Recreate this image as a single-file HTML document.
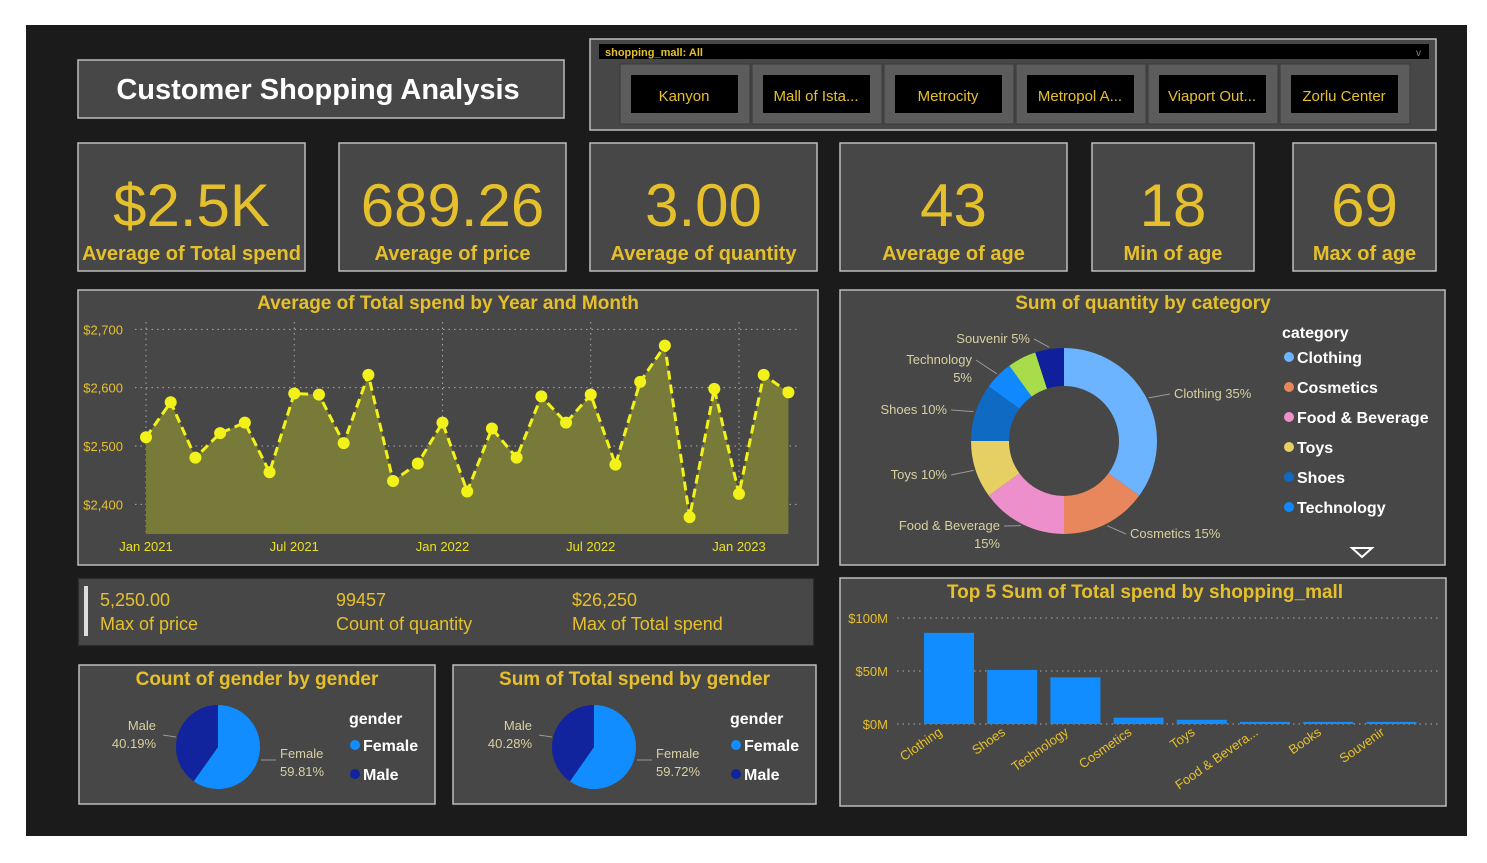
<!DOCTYPE html>
<html><head><meta charset="utf-8">
<style>
html,body{margin:0;padding:0;background:#fff;}
svg{display:block;font-family:"Liberation Sans",sans-serif;}
.t{font-family:"Liberation Sans Narrow","Liberation Sans",sans-serif;font-weight:bold;fill:#e6c02c;}
.y{fill:#e6c02c;}
</style></head>
<body>
<svg id="root" width="1487" height="863" viewBox="0 0 1487 863" xmlns="http://www.w3.org/2000/svg">
<rect x="26" y="25" width="1441" height="811" fill="#1b1b1b"/>
<g>
<rect x="78" y="60" width="486" height="58" fill="#474747" stroke="#bdbdbd" stroke-width="1.5"/>
<text x="318" y="99" text-anchor="middle" font-size="29" font-weight="bold" fill="#fff">Customer Shopping  Analysis</text>
</g>
<g>
<rect x="590" y="39" width="846" height="91" fill="#474747" stroke="#bdbdbd" stroke-width="1.5"/>
<rect x="599" y="44" width="830" height="15" fill="#000"/>
<text x="605" y="56" font-size="11" font-weight="bold" class="y">shopping_mall: All</text>
<text x="1416" y="56" font-size="10" fill="#888">v</text>
</g>
<g id="mallbtns"></g>
<g id="kpis"></g>
<g>
<rect x="78" y="290" width="740" height="275" fill="#474747" stroke="#bdbdbd" stroke-width="1.5"/>
<text x="448" y="309" text-anchor="middle" font-size="19" class="t">Average of Total spend by Year and Month</text>
</g>
<g id="line"></g>
<g>
<rect x="840" y="290" width="605" height="275" fill="#474747" stroke="#bdbdbd" stroke-width="1.5"/>
<text x="1143" y="309" text-anchor="middle" font-size="19" class="t">Sum of quantity by category</text>
<text x="1282" y="338" font-size="16" font-weight="bold" fill="#fff">category</text>
<path d="M1352 548 L1372 548 L1362 557 Z" fill="none" stroke="#fff" stroke-width="2"/>
</g>
<g id="donut"></g>
<g>
<rect x="78" y="578" width="736" height="68" fill="#474747" stroke="#222" stroke-width="1.5"/>
<rect x="84" y="586" width="4" height="50" fill="#ddd"/>
<g font-size="18" class="y">
<text x="100" y="606">5,250.00</text><text x="100" y="630">Max of price</text>
<text x="336" y="606">99457</text><text x="336" y="630">Count of quantity</text>
<text x="572" y="606">$26,250</text><text x="572" y="630">Max of Total spend</text>
</g>
</g>
<g id="pies"></g>
<g>
<rect x="840" y="578" width="606" height="228" fill="#474747" stroke="#bdbdbd" stroke-width="1.5"/>
<text x="1145" y="598" text-anchor="middle" font-size="19" class="t">Top 5 Sum of Total spend by shopping_mall</text>
</g>
<g id="bars"></g>
</svg>
<script>
const mallNames = ["Kanyon","Mall of Ista...","Metrocity","Metropol A...","Viaport Out...","Zorlu Center"];
const kpiValues = ["$2.5K","689.26","3.00","43","18","69"];
const kpiLabels = ["Average of Total spend","Average of price","Average of quantity","Average of age","Min of age","Max of age"];
const monthValues = [2515,2575,2480,2522,2540,2455,2590,2588,2505,2622,2440,2470,2540,2422,2530,2480,2585,2540,2588,2468,2610,2672,2378,2598,2418,2622,2592];
const monthTickLabels = ["Jan 2021","Jul 2021","Jan 2022","Jul 2022","Jan 2023"];
const yTicks = [2400,2500,2600,2700];
const catNames = ["Clothing","Cosmetics","Food & Beverage","Toys","Shoes","Technology","Books","Souvenir"];
const catValues = [35,15,15,10,10,5,5,5];
const legendCats = ["Clothing","Cosmetics","Food & Beverage","Toys","Shoes","Technology"];
const genderNames = ["Female","Male"];
const genderCount = [59.81,40.19];
const genderSpend = [59.72,40.28];
const barCats = ["Clothing","Shoes","Technology","Cosmetics","Toys","Food & Bevera...","Books","Souvenir"];
const barValues = [86,51,44,6,4,2,2,2];
const barTicks = [0,50,100];

const NS="http://www.w3.org/2000/svg";
function mk(parent,tag,attrs,text){const e=document.createElementNS(NS,tag);for(const k in attrs)e.setAttribute(k,attrs[k]);if(text!==undefined)e.textContent=text;parent.appendChild(e);return e;}

const mb=document.getElementById('mallbtns');
mallNames.forEach((n,i)=>{
  const x=620+i*132;
  const g=mk(mb,'g',{});
  
  
  mk(g,'rect',{x:x,y:64,width:130,height:60,fill:'#5c5c5c',stroke:'#3a3a3a'});
  mk(g,'rect',{x:x+11,y:75,width:107,height:38,fill:'#000'});
  mk(g,'text',{x:x+64,y:101,'text-anchor':'middle','font-size':15,class:'y'},n);
});

const kx=[[78,227],[339,227],[590,227],[840,227],[1092,162],[1293,143]];
const kg=document.getElementById('kpis');
kpiValues.forEach((v,i)=>{
  const g=mk(kg,'g',{});
  
  
  const [x,w]=kx[i];
  mk(g,'rect',{x:x,y:143,width:w,height:128,fill:'#474747',stroke:'#bdbdbd','stroke-width':1.5});
  mk(g,'text',{x:x+w/2,y:226,'text-anchor':'middle','font-size':60,class:'y','font-family':'Liberation Sans Narrow, Liberation Sans, sans-serif'},v);
  mk(g,'text',{x:x+w/2,y:260,'text-anchor':'middle','font-size':20,'font-weight':'bold',class:'y'},kpiLabels[i]);
});

(function(){
  const g=document.getElementById('line');
  const x0=146,dx=(739-146)/24;
  const X=i=>x0+i*dx;
  const Y=v=>446-(v-2500)*0.5833;
  const base=534;
  yTicks.forEach(t=>{
    const gl=mk(g,'line',{x1:135,x2:800,y1:Y(t),y2:Y(t),stroke:'#aaa','stroke-dasharray':'1.5 4'});
    
    
    const tl=mk(g,'text',{x:123,y:Y(t)+5,'text-anchor':'end','font-size':13,class:'y'},'$'+t.toLocaleString('en-US'));
    
    
  });
  monthTickLabels.forEach((l,k)=>{
    const xx=X(k*6);
    mk(g,'line',{x1:xx,x2:xx,y1:322,y2:534,stroke:'#aaa','stroke-dasharray':'1.5 4'});
    const tl=mk(g,'text',{x:xx,y:551,'text-anchor':'middle','font-size':13,fill:'#e8e020'},l);
    
    
  });
  let d='M'+X(0)+' '+base;
  monthValues.forEach((v,i)=>d+=' L'+X(i)+' '+Y(v));
  d+=' L'+X(monthValues.length-1)+' '+base+' Z';
  const area=mk(g,'path',{d:d,fill:'#777a38'});
  
  
  const pts=monthValues.map((v,i)=>X(i)+','+Y(v)).join(' ');
  const pl=mk(g,'polyline',{points:pts,fill:'none',stroke:'#f2f21a','stroke-width':3,'stroke-dasharray':'9 5'});
  
  
  monthValues.forEach((v,i)=>{
    const c=mk(g,'circle',{cx:X(i),cy:Y(v),r:6,fill:'#f2f21a'});
    
    
  });
})();

(function(){
  const g=document.getElementById('donut');
  const cols=["#6cb4ff","#e8875c","#ec8fcb","#e6cf63","#0f6ac4","#1089ff","#a8dc4a","#10209c"];
  const cx=1064,cy=441,R=93,r=55;
  const tot=catValues.reduce((a,b)=>a+b,0);
  let a=-Math.PI/2;
  const labelPos=[[1174,398,'start',['Clothing 35%']],[1130,538,'start',['Cosmetics 15%']],[1000,530,'end',['Food & Beverage','15%']],[947,479,'end',['Toys 10%']],[947,414,'end',['Shoes 10%']],[972,364,'end',['Technology','5%']],null,[1030,343,'end',['Souvenir 5%']]];
  catValues.forEach((v,i)=>{
    const a2=a+v/tot*2*Math.PI;
    const lg=(a2-a)>Math.PI?1:0;
    const p=(rr,an)=>[cx+rr*Math.cos(an),cy+rr*Math.sin(an)];
    const [x1,y1]=p(R,a),[x2,y2]=p(R,a2),[x3,y3]=p(r,a2),[x4,y4]=p(r,a);
    const s=mk(g,'path',{d:`M${x1} ${y1} A${R} ${R} 0 ${lg} 1 ${x2} ${y2} L${x3} ${y3} A${r} ${r} 0 ${lg} 0 ${x4} ${y4} Z`,fill:cols[i]});
    
    
    const lp=labelPos[i];
    if(lp){
      const mid=(a+a2)/2;const [ex,ey]=p(R+2,mid);
      mk(g,'line',{x1:ex,y1:ey,x2:lp[2]==='start'?lp[0]-4:lp[0]+4,y2:lp[1]-4,stroke:'#999'});
      lp[3].forEach((t,k)=>{
        const tl=mk(g,'text',{x:lp[0],y:lp[1]+k*18,'text-anchor':lp[2],'font-size':13,fill:'#d8d0a0'},t);
        
        
      });
    }
    a=a2;
  });
  legendCats.forEach((c,i)=>{
    const y=357+i*30;
    const lg=mk(g,'g',{});
    
    
    mk(lg,'circle',{cx:1289,cy:y,r:5,fill:cols[catNames.indexOf(c)]});
    mk(lg,'text',{x:1297,y:y+6,'font-size':16,'font-weight':'bold',fill:'#fff'},c);
  });
})();

(function(){
  const g=document.getElementById('pies');
  const panels=[[79,356,"Count of gender by gender",genderCount,139],[453,363,"Sum of Total spend by gender",genderSpend,141]];
  const cols=["#118dff","#12239e"];
  panels.forEach(([px,pw,title,vals,off],pi)=>{
    const pg=mk(g,'g',{});
    
    
    mk(pg,'rect',{x:px,y:665,width:pw,height:139,fill:'#474747',stroke:'#bdbdbd','stroke-width':1.5});
    mk(pg,'text',{x:px+pw/2,y:685,'text-anchor':'middle','font-size':19,class:'t'},title);
    const cx=px+off,cy=747,R=42;
    const tot=vals[0]+vals[1];let a=-Math.PI/2;
    vals.forEach((v,i)=>{
      const a2=a+v/tot*2*Math.PI;const lg=(a2-a)>Math.PI?1:0;
      const s=mk(pg,'path',{d:`M${cx} ${cy} L${cx+R*Math.cos(a)} ${cy+R*Math.sin(a)} A${R} ${R} 0 ${lg} 1 ${cx+R*Math.cos(a2)} ${cy+R*Math.sin(a2)} Z`,fill:cols[i]});
      
      
      a=a2;
    });
    mk(pg,'line',{x1:cx+43,y1:760,x2:cx+58,y2:760,stroke:'#999'});
    mk(pg,'line',{x1:cx-55,y1:735,x2:cx-42,y2:737,stroke:'#999'});
    mk(pg,'text',{x:cx+62,y:758,'font-size':13,fill:'#d8d0a0'},'Female');
    mk(pg,'text',{x:cx+62,y:776,'font-size':13,fill:'#d8d0a0'},vals[0].toFixed(2)+'%');
    mk(pg,'text',{x:cx-62,y:730,'text-anchor':'end','font-size':13,fill:'#d8d0a0'},'Male');
    mk(pg,'text',{x:cx-62,y:748,'text-anchor':'end','font-size':13,fill:'#d8d0a0'},vals[1].toFixed(2)+'%');
    const lx=px+pw-86;
    mk(pg,'text',{x:lx,y:724,'font-size':16,'font-weight':'bold',fill:'#fff'},'gender');
    genderNames.forEach((n,i)=>{
      const le=mk(pg,'g',{});
      
      
      mk(le,'circle',{cx:lx+6,cy:745+i*29,r:5,fill:cols[i]});
      mk(le,'text',{x:lx+14,y:751+i*29,'font-size':16,'font-weight':'bold',fill:'#fff'},n);
    });
  });
})();

(function(){
  const g=document.getElementById('bars');
  const Y=v=>724-v*1.06;
  const x0=924,step=63.2,bw=50;
  barTicks.forEach(t=>{
    const gl=mk(g,'line',{x1:897,x2:1440,y1:Y(t),y2:Y(t),stroke:'#aaa','stroke-dasharray':'1.5 4'});
    
    
    const tl=mk(g,'text',{x:888,y:Y(t)+5,'text-anchor':'end','font-size':13,class:'y'},'$'+t+'M');
    
    
  });
  barValues.forEach((v,i)=>{
    const x=x0+i*step;
    const b=mk(g,'rect',{x:x,y:Y(v),width:bw,height:724-Y(v),fill:'#118dff'});
    
    
    const cx=x+bw/2-6,cy=734;
    const tl=mk(g,'text',{x:cx,y:cy,'text-anchor':'end','font-size':13,class:'y',transform:`rotate(-35 ${cx} ${cy})`},barCats[i]);
    
    
  });
})();
</script>
</body></html>
